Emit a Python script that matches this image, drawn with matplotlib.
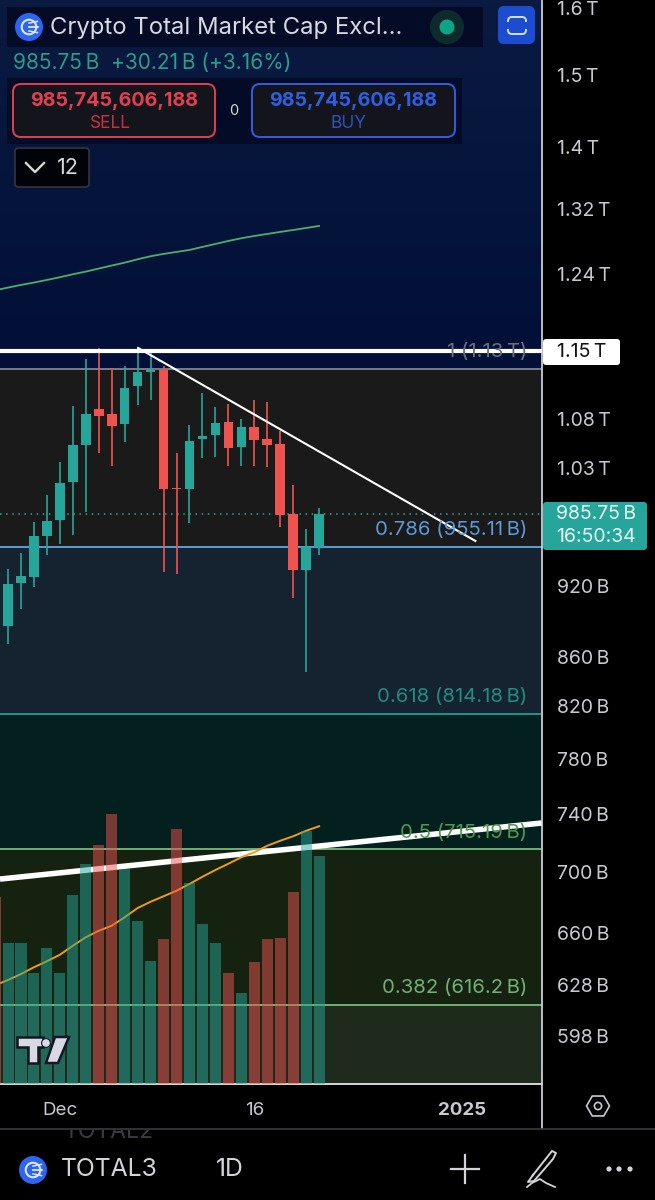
import numpy as np
import matplotlib
matplotlib.use("Agg")
import matplotlib.pyplot as plt
from matplotlib.colors import LinearSegmentedColormap
from matplotlib.patches import Circle, FancyBboxPatch, Polygon, RegularPolygon, Rectangle

plt.rcParams['font.family'] = ['Inter', 'DejaVu Sans']

# daily candles, prices in billions
days = np.arange(25)
opens = [885.3, 922.5, 928.4, 965.4, 980.3, 1016.3, 1053.1, 1090.0, 1085.2, 1074.9, 1114.6, 1128.9, 1131.1,
         1010.5, 1009.5, 1059.5, 1063.6, 1076.2, 1051.5, 1071.1, 1059.2, 1054.1, 985.6, 934.6, 955.1]
highs = [935.2, 949.6, 977.8, 1003.7, 1036.2, 1093.2, 1143.8, 1155.1, 1133.3, 1135.8, 1156.2, 1152.6, 1135.8,
         1044.8, 1073.1, 1106.5, 1092.5, 1094.9, 1080.0, 1099.1, 1097.4, 1067.7, 1013.0, 971.6, 991.0]
lows = [870.5, 900.2, 919.0, 948.1, 957.8, 966.1, 987.5, 1044.8, 1032.5, 1056.1, 1094.6, 1099.5, 932.6,
        930.8, 976.9, 1040.1, 1041.1, 1032.5, 1032.2, 1032.2, 1031.5, 973.2, 909.7, 847.5, 948.1]
closes = [922.2, 928.7, 965.1, 979.1, 1015.9, 1052.8, 1085.2, 1083.1, 1072.8, 1112.5, 1128.9, 1131.1, 1009.5,
          1009.2, 1057.5, 1062.2, 1075.2, 1050.4, 1071.1, 1057.8, 1053.5, 984.4, 934.6, 955.1, 985.75]

# volume starts one day earlier, that bar is cut by the left edge
vol_days = np.arange(-1, 25)
volume = [74.8, 56.4, 56.4, 44.4, 54.4, 44.4, 75.6, 88.0, 95.6, 108.0, 86.0, 65.2, 49.2, 58.0,
          102.0, 80.4, 64.0, 56.4, 44.4, 36.4, 48.8, 58.0, 58.4, 76.8, 101.2, 91.2]
vol_ma = [39.5, 41.6, 44.0, 46.7, 49.1, 51.7, 55.3, 58.7, 61.3, 63.3, 66.7, 70.4, 72.9, 75.1,
          77.3, 80.0, 82.9, 85.6, 88.1, 90.7, 92.7, 95.3, 97.3, 99.1, 101.3, 103.1]

# long moving average
ma_long = [1221.1, 1224.3, 1227.4, 1230.2, 1233.3, 1236.5, 1240.0, 1243.2, 1246.8, 1250.4, 1253.9, 1257.9, 1261.6,
           1264.4, 1266.8, 1269.2, 1272.9, 1276.5, 1280.2, 1283.5, 1286.3, 1288.8, 1291.3, 1293.7, 1296.2, 1298.7]

# fib levels
fib_prices = [1133.0, 955.11, 814.18, 715.19, 616.2]
fib_labels = ["1 (1.13\u2009T)", "0.786 (955.11\u2009B)", "0.618 (814.18\u2009B)", "0.5 (715.19\u2009B)", "0.382 (616.2\u2009B)"]
fib_lines = ["#8b8e98", "#64b5f6", "#26a69a", "#81c784", "#81c784"]
fib_text = ["#6d707a", "#5a9ad6", "#1f8d80", "#4c9a50", "#72b076"]
zone_colors = ["#1a1a1a", "#15222f", "#03201f", "#14220f", "#1e2a1c"]

# drawn trend lines: (day, price) ends
level_price = 1152.0
rising_days = [-0.62, 41.16]
rising_prices = [695.0, 733.3]
falling_days = [10.04, 36.06]
falling_prices = [1155.5, 960.6]

price_ticks = [1600, 1500, 1400, 1320, 1240, 1080, 1030, 920, 860, 820, 780, 740, 700, 660, 628, 598]
price_labels = ["1.6\u2009T", "1.5\u2009T", "1.4\u2009T", "1.32\u2009T", "1.24\u2009T", "1.08\u2009T", "1.03\u2009T",
                "920\u2009B", "860\u2009B", "820\u2009B", "780\u2009B", "740\u2009B", "700\u2009B", "660\u2009B",
                "628\u2009B", "598\u2009B"]
date_ticks = [4, 19, 35]
date_labels = ["Dec", "16", "2025"]

UP = "#26a69a"
DOWN = "#ef5350"
W, H = 655, 1200
PANEL_R, PANEL_B = 541.5, 1084

fig = plt.figure(figsize=(W / 100, H / 100), dpi=100, facecolor="black")
rect = [0, 1 - PANEL_B / H, PANEL_R / W, PANEL_B / H]

# navy gradient behind the chart, the log axis cant take imshow
bg = fig.add_axes(rect, zorder=0)
navy = LinearSegmentedColormap.from_list("navy", ["#0a1a40", "#021038"])
bg.imshow(np.linspace(0, 1, 256).reshape(-1, 1), aspect="auto", cmap=navy, extent=(0, 1, 0, 1), vmin=0, vmax=0.32)
bg.axis("off")

ax = fig.add_axes(rect, zorder=1)
ax.patch.set_visible(False)
ax.set_yscale("log")
ax.set_xlim(-0.62, 41.16)
ax.set_ylim(571.2, 1612.3)

# background zones between the fib levels
edges = fib_prices + [571.2]
for i in range(5):
    ax.axhspan(edges[i + 1], edges[i], color=zone_colors[i], lw=0, zorder=0)
for p, c in zip(fib_prices, fib_lines):
    ax.axhline(p, color=c, lw=1.2, zorder=1)

ax.plot(vol_days, ma_long, color="#4caf6a", lw=1.3, zorder=2)
ax.axhline(985.75, color=UP, lw=1.1, ls=(0, (1, 3)), zorder=2)

# candles
colors = [UP if c >= o else DOWN for o, c in zip(opens, closes)]
ax.vlines(days, lows, highs, colors=colors, lw=1.2, zorder=3)
body_low = np.minimum(opens, closes)
body_high = np.maximum(opens, closes)
ax.bar(days, body_high - body_low, bottom=body_low, width=0.74, color=colors, lw=0, zorder=3)

ax.axhline(level_price, color="white", lw=3, zorder=4)
ax.plot(rising_days, rising_prices, color="white", lw=4, zorder=4, solid_capstyle="butt")
ax.plot(falling_days, falling_prices, color="white", lw=1.5, zorder=5)

for p, lab, c in zip(fib_prices, fib_labels, fib_text):
    ax.annotate(lab, (1, p), xycoords=("axes fraction", "data"), xytext=(-10, 5.5), textcoords="offset points",
                ha="right", va="bottom", color=c, fontsize=14.6, zorder=6)

# volume sits on top of the lines, half transparent
vx = ax.twinx()
vx.set_ylim(0, 433.6)
vx.set_yticks([])
vx.patch.set_visible(False)
for s in vx.spines.values():
    s.set_visible(False)
vx.plot(vol_days, vol_ma, color="#f39c12", lw=1.4, zorder=1)
vol_colors = [DOWN] + colors
vx.bar(vol_days, volume, width=0.85, color=vol_colors, alpha=0.5, lw=0, zorder=2)

# twinx moves the ticks to the left, so set the axis up after it
ax.yaxis.tick_right()
ax.set_yticks(price_ticks)
ax.set_yticklabels(price_labels)
ax.minorticks_off()
ax.tick_params(axis="y", which="both", length=0, pad=11, labelsize=14, labelcolor="#c9cacf")
ax.set_xticks(date_ticks)
ax.set_xticklabels(date_labels)
ax.tick_params(axis="x", length=0, pad=13, labelsize=13.5, labelcolor="#c9cacf")
ax.get_xticklabels()[2].set_fontweight("bold")
for s in ["top", "left"]:
    ax.spines[s].set_visible(False)
ax.spines["right"].set_color("#c8ccd8")
ax.spines["right"].set_linewidth(1.3)
ax.spines["bottom"].set_color("#e6e6e6")
ax.spines["bottom"].set_linewidth(1.3)

# app chrome, in pixel coordinates
ui = fig.add_axes([0, 0, 1, 1], zorder=10)
ui.set_xlim(0, W)
ui.set_ylim(H, 0)
ui.axis("off")


def box(x0, y0, x1, y1, face, edge="none", lw=0, r=4):
    ui.add_patch(FancyBboxPatch((x0 + r, y0 + r), x1 - x0 - 2 * r, y1 - y0 - 2 * r,
                                boxstyle=f"round,pad={r},rounding_size={r}", fc=face, ec=edge, lw=lw))


def logo(cx, cy, r):
    ui.add_patch(Circle((cx, cy), r, fc="#2c66f0", ec="none"))
    ui.add_patch(Circle((cx, cy), r * 0.52, fc="none", ec="#dfe6fb", lw=1.5))
    ui.plot([cx, cx + r * 0.65], [cy, cy], color="#dfe6fb", lw=1.3)
    ui.plot([cx, cx + r * 0.6], [cy - r * 0.28, cy - r * 0.4], color="#dfe6fb", lw=1.1)
    ui.plot([cx, cx + r * 0.6], [cy + r * 0.28, cy + r * 0.4], color="#dfe6fb", lw=1.1)


# legend panels
ui.add_patch(Rectangle((7, 7), 476, 40, fc="#030b26", ec="none"))
ui.add_patch(Rectangle((7, 78), 455, 66, fc="#030b26", ec="none"))
logo(29, 27, 14)
ui.text(50, 28, "Crypto Total Market Cap Excl...", color="#d7d9e3", fontsize=17.2, va="center")
ui.add_patch(Circle((447, 27), 17, fc="#0d2a2c", ec="none"))
ui.add_patch(Circle((447, 27), 7.5, fc="#0ea585", ec="none"))
box(498, 6, 535, 44, "#1c4ccf", r=6)
box(508, 17, 526, 34, "none", "#d5def8", 1.4, r=4)
ui.add_patch(Rectangle((505, 22), 24, 7, fc="#1c4ccf", ec="none", zorder=5))
ui.text(13, 63, "985.75\u2009B  +30.21\u2009B (+3.16%)", color="#2a9d8c", fontsize=15, va="center")

box(13, 84, 215, 137, "#14151c", "#e0404f", 1.4, r=8)
ui.text(114, 101, "985,745,606,188", color="#e0404f", fontsize=14.2, fontweight="bold", ha="center", va="center")
ui.text(110, 124, "SELL", color="#c8323f", fontsize=12.5, ha="center", va="center")
ui.text(234, 111, "0", color="#d8d8d8", fontsize=10.5, ha="center", va="center")
box(252, 84, 455, 137, "#14151c", "#2f5fe0", 1.4, r=8)
ui.text(353, 101, "985,745,606,188", color="#2f5fe0", fontsize=14.2, fontweight="bold", ha="center", va="center")
ui.text(349, 124, "BUY", color="#2a52c0", fontsize=12.5, ha="center", va="center")

box(15, 148, 89, 187, "#020308", "#33363f", 1.2, r=3)
ui.plot([26, 35, 44], [163, 172, 163], color="#d8d8d8", lw=1.7)
ui.text(68, 168, "12", color="#d8d8d8", fontsize=15.5, ha="center", va="center")

# last price and marked level on the axis
box(543, 339, 620, 365, "white", r=3)
ui.text(557, 352, "1.15\u2009T", color="#111111", fontsize=14, va="center")
box(543, 502, 647, 550, UP, r=3)
ui.text(556, 514, "985.75\u2009B", color="#e8f5f3", fontsize=14, va="center")
ui.text(556, 537, "16:50:34", color="#e8f5f3", fontsize=14, va="center")

# TradingView mark
tv_dark = "#131722"
tv_light = "#d9d9e6"
t_shape = [(17, 1037), (43, 1037), (43, 1047), (38, 1047), (38, 1063), (28, 1063), (28, 1047), (17, 1047)]
s_shape = [(55, 1037), (69, 1037), (58, 1063), (46, 1063)]
for shape in (t_shape, s_shape):
    ui.add_patch(Polygon(shape, closed=True, fc=tv_light, ec=tv_dark, lw=1.8))
ui.add_patch(Circle((46, 1043), 4.4, fc=tv_light, ec=tv_dark, lw=0.8))

# bottom bars
ui.plot([PANEL_R, PANEL_R], [1084, 1128], color="#c8ccd8", lw=1.3)
ui.plot([0, W], [1128.5, 1128.5], color="#3a3b40", lw=1.2)
ghost = ui.text(64, 1132, "TOTAL2", color="#3c3c40", fontsize=16.5, va="center")
ghost.set_clip_on(True)
ghost.set_clip_path(Rectangle((0, 1130), W, 10, transform=ui.transData))
ui.add_patch(RegularPolygon((598, 1106), 6, radius=11.5, orientation=np.pi / 2, fc="none", ec="#c9cacf", lw=1.2))
ui.add_patch(Circle((598, 1106), 3.6, fc="none", ec="#c9cacf", lw=1.2))
logo(33, 1170, 14)
ui.text(61, 1170, "TOTAL3", color="#d4d4d8", fontsize=17.8, va="center")
ui.text(216, 1170, "1D", color="#d4d4d8", fontsize=17.8, va="center")
ui.plot([451, 479], [1169, 1169], color="#d4d4d8", lw=1.6)
ui.plot([465, 465], [1155, 1183], color="#d4d4d8", lw=1.6)
# pen
pen_x = [533, 552, 556, 553, 534, 528, 533]
pen_y = [1175, 1151, 1153, 1159, 1181, 1182, 1175]
ui.plot(pen_x, pen_y, color="#d4d4d8", lw=1.4)
ui.plot([527, 532, 540, 546, 555], [1187, 1183, 1179, 1183, 1187], color="#d4d4d8", lw=1.3)
for dx in (609, 619, 630):
    ui.add_patch(Circle((dx, 1169), 2.6, fc="#d4d4d8", ec="none"))

fig.savefig("out.png", dpi=100, facecolor="black")
